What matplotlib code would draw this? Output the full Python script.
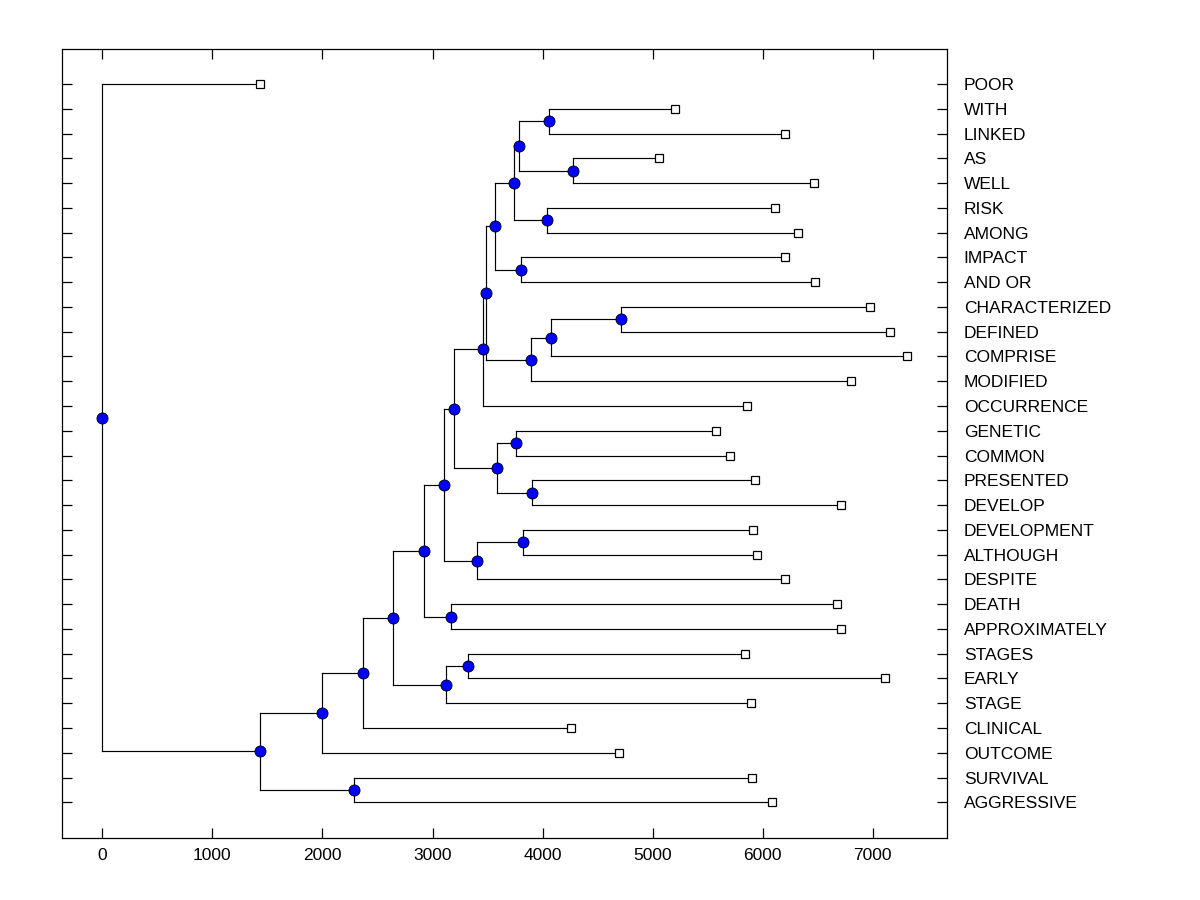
import matplotlib
matplotlib.use("Agg")
import matplotlib.pyplot as plt

plt.rcParams['font.family'] = ['Liberation Sans', 'DejaVu Sans']

# Leaves, top to bottom, with the height (x) where each leaf sits
labels = ["POOR", "WITH", "LINKED", "AS", "WELL", "RISK", "AMONG", "IMPACT",
          "AND OR", "CHARACTERIZED", "DEFINED", "COMPRISE", "MODIFIED",
          "OCCURRENCE", "GENETIC", "COMMON", "PRESENTED", "DEVELOP",
          "DEVELOPMENT", "ALTHOUGH", "DESPITE", "DEATH", "APPROXIMATELY",
          "STAGES", "EARLY", "STAGE", "CLINICAL", "OUTCOME", "SURVIVAL",
          "AGGRESSIVE"]
leaf_heights = [1430, 5200, 6200, 5055, 6464, 6109, 6318, 6200,
                6473, 6973, 7155, 7309, 6800,
                5855, 5573, 5700, 5927, 6709,
                5909, 5945, 6200, 6679, 6709,
                5836, 7109, 5891, 4255, 4691, 5900,
                6082]

# Internal nodes: name, first child, second child, height (x)
node_names = ["AA", "BB", "Y", "Z", "W", "X", "S", "V", "U", "T", "R", "N",
              "P", "Q", "O", "K", "M", "L", "I", "J", "F", "H", "G", "E",
              "D", "B", "C", "A", "ROOT"]
node_left = ["WITH", "AS", "AA", "RISK", "Y", "IMPACT", "W", "CHARACTERIZED",
             "V", "U", "S", "R", "GENETIC", "PRESENTED", "P", "N",
             "DEVELOPMENT", "M", "K", "DEATH", "I", "STAGES", "H", "F",
             "E", "D", "SURVIVAL", "B", "POOR"]
node_right = ["LINKED", "WELL", "BB", "AMONG", "Z", "AND OR", "X", "DEFINED",
              "COMPRISE", "MODIFIED", "T", "OCCURRENCE", "COMMON", "DEVELOP",
              "Q", "O", "ALTHOUGH", "DESPITE", "L", "APPROXIMATELY", "J",
              "EARLY", "STAGE", "G", "CLINICAL", "OUTCOME", "AGGRESSIVE",
              "C", "A"]
node_heights = [4055, 4273, 3782, 4036, 3736, 3800, 3564, 4709, 4073, 3891,
                3484, 3455, 3755, 3900, 3582, 3191, 3818, 3400, 3100, 3164,
                2927, 3318, 3118, 2643, 2364, 2000, 2291, 1430, 0]

fig = plt.figure(figsize=(12, 9), dpi=100)
ax = fig.add_axes([0.0519, 0.0689, 0.7373, 0.8763])

pos = {}
for i, (lab, h) in enumerate(zip(labels, leaf_heights)):
    pos[lab] = (h, i)

line_kw = dict(color="black", lw=0.85, zorder=1)
for name, c1, c2, h in zip(node_names, node_left, node_right, node_heights):
    x1, y1 = pos[c1]
    x2, y2 = pos[c2]
    y = (y1 + y2) / 2.0
    pos[name] = (h, y)
    ax.plot([h, h], [y1, y2], **line_kw)
    ax.plot([h, x1], [y1, y1], **line_kw)
    ax.plot([h, x2], [y2, y2], **line_kw)

ax.plot(leaf_heights, range(len(labels)), linestyle="none", marker="s",
        markersize=6, markerfacecolor="white", markeredgecolor="black",
        markeredgewidth=0.9, zorder=3)
nx = [pos[n][0] for n in node_names]
ny = [pos[n][1] for n in node_names]
ax.plot(nx, ny, linestyle="none", marker="o", markersize=8,
        markerfacecolor="#0000ff", markeredgecolor="black",
        markeredgewidth=0.6, zorder=4)

ax.set_xlim(-364, 7675)
ax.set_ylim(30.44, -1.40)
ax.set_xticks([0, 1000, 2000, 3000, 4000, 5000, 6000, 7000])
ax.set_yticks(range(len(labels)))
ax.set_yticklabels(labels)
ax.tick_params(axis="y", left=True, right=True, labelleft=False,
               labelright=True, direction="in", length=7, width=0.9,
               pad=12, labelsize=12.5)
ax.tick_params(axis="x", top=True, bottom=True, direction="in", length=7,
               width=0.9, pad=7, labelsize=12.5)
for s in ax.spines.values():
    s.set_linewidth(0.9)

fig.savefig("out.png", dpi=100)
